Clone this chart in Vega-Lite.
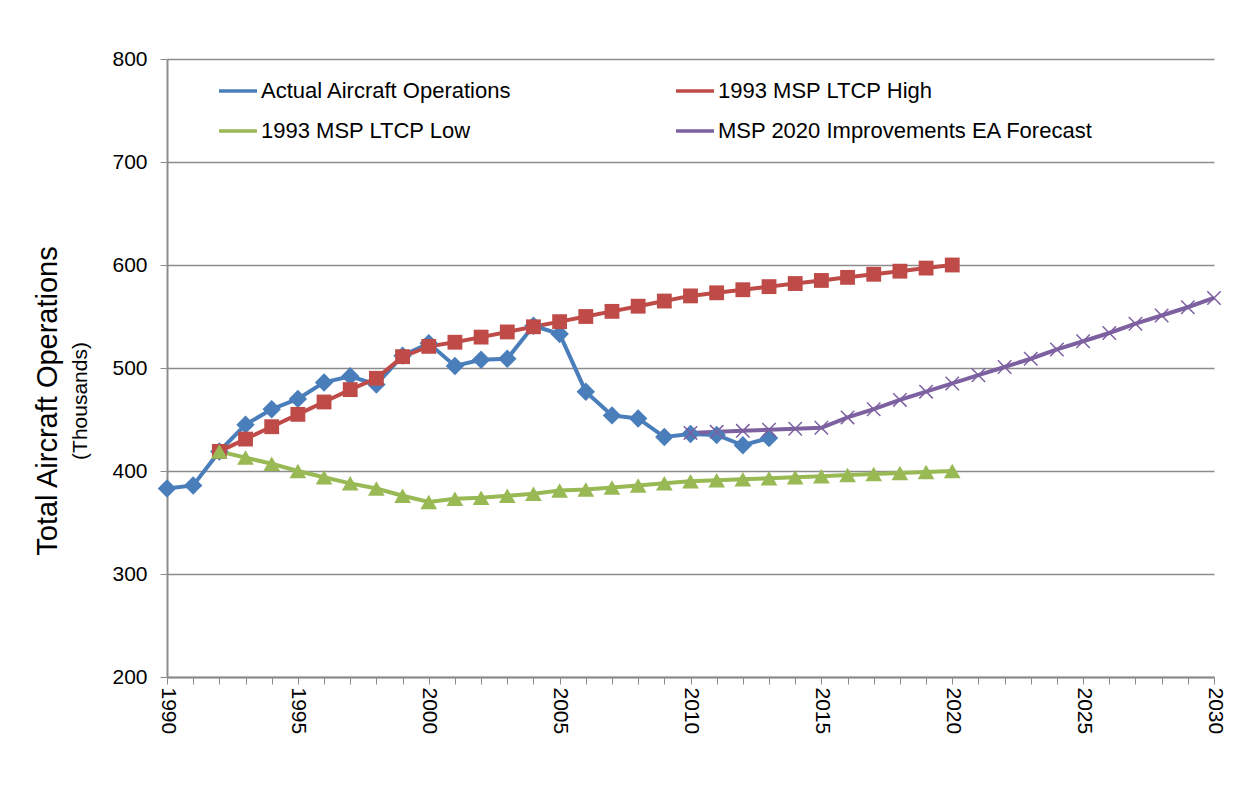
{
  "$schema": "https://vega.github.io/schema/vega-lite/v6.json",
  "width": 1047,
  "height": 618,
  "autosize": "none",
  "padding": {"left": 167, "top": 59, "right": 38, "bottom": 121},
  "background": "white",
  "title": {
    "text": "Total Aircraft Operations", "subtitle": "(Thousands)", "orient": "left", "anchor": "middle",
    "font": "Liberation Sans", "subtitleFont": "Liberation Sans", "fontSize": 29, "subtitleFontSize": 21,
    "fontWeight": "normal", "color": "#000", "subtitleColor": "#000", "offset": 21, "subtitlePadding": 7, "dx": -33
  },
  "config": {
    "font": "Liberation Sans",
    "view": {"stroke": null},
    "axis": {"labelFont": "Liberation Sans", "titleFont": "Liberation Sans", "labelColor": "#000", "titleColor": "#000", "titleFontWeight": "normal"}
  },
  "data": {"name": "ops"},
  "datasets": {
    "ops": [
      {"series": "Actual Aircraft Operations", "year": 1990, "value": 383},
      {"series": "Actual Aircraft Operations", "year": 1991, "value": 386},
      {"series": "Actual Aircraft Operations", "year": 1992, "value": 419},
      {"series": "Actual Aircraft Operations", "year": 1993, "value": 445},
      {"series": "Actual Aircraft Operations", "year": 1994, "value": 460},
      {"series": "Actual Aircraft Operations", "year": 1995, "value": 470},
      {"series": "Actual Aircraft Operations", "year": 1996, "value": 486},
      {"series": "Actual Aircraft Operations", "year": 1997, "value": 492},
      {"series": "Actual Aircraft Operations", "year": 1998, "value": 484},
      {"series": "Actual Aircraft Operations", "year": 1999, "value": 512},
      {"series": "Actual Aircraft Operations", "year": 2000, "value": 524},
      {"series": "Actual Aircraft Operations", "year": 2001, "value": 502},
      {"series": "Actual Aircraft Operations", "year": 2002, "value": 508},
      {"series": "Actual Aircraft Operations", "year": 2003, "value": 509},
      {"series": "Actual Aircraft Operations", "year": 2004, "value": 541},
      {"series": "Actual Aircraft Operations", "year": 2005, "value": 533},
      {"series": "Actual Aircraft Operations", "year": 2006, "value": 477},
      {"series": "Actual Aircraft Operations", "year": 2007, "value": 454},
      {"series": "Actual Aircraft Operations", "year": 2008, "value": 451},
      {"series": "Actual Aircraft Operations", "year": 2009, "value": 433},
      {"series": "Actual Aircraft Operations", "year": 2010, "value": 436},
      {"series": "Actual Aircraft Operations", "year": 2011, "value": 435},
      {"series": "Actual Aircraft Operations", "year": 2012, "value": 425},
      {"series": "Actual Aircraft Operations", "year": 2013, "value": 432},
      {"series": "1993 MSP LTCP High", "year": 1992, "value": 419},
      {"series": "1993 MSP LTCP High", "year": 1993, "value": 431},
      {"series": "1993 MSP LTCP High", "year": 1994, "value": 443},
      {"series": "1993 MSP LTCP High", "year": 1995, "value": 455},
      {"series": "1993 MSP LTCP High", "year": 1996, "value": 467},
      {"series": "1993 MSP LTCP High", "year": 1997, "value": 479},
      {"series": "1993 MSP LTCP High", "year": 1998, "value": 490},
      {"series": "1993 MSP LTCP High", "year": 1999, "value": 511},
      {"series": "1993 MSP LTCP High", "year": 2000, "value": 521},
      {"series": "1993 MSP LTCP High", "year": 2001, "value": 525},
      {"series": "1993 MSP LTCP High", "year": 2002, "value": 530},
      {"series": "1993 MSP LTCP High", "year": 2003, "value": 535},
      {"series": "1993 MSP LTCP High", "year": 2004, "value": 540},
      {"series": "1993 MSP LTCP High", "year": 2005, "value": 545},
      {"series": "1993 MSP LTCP High", "year": 2006, "value": 550},
      {"series": "1993 MSP LTCP High", "year": 2007, "value": 555},
      {"series": "1993 MSP LTCP High", "year": 2008, "value": 560},
      {"series": "1993 MSP LTCP High", "year": 2009, "value": 565},
      {"series": "1993 MSP LTCP High", "year": 2010, "value": 570},
      {"series": "1993 MSP LTCP High", "year": 2011, "value": 573},
      {"series": "1993 MSP LTCP High", "year": 2012, "value": 576},
      {"series": "1993 MSP LTCP High", "year": 2013, "value": 579},
      {"series": "1993 MSP LTCP High", "year": 2014, "value": 582},
      {"series": "1993 MSP LTCP High", "year": 2015, "value": 585},
      {"series": "1993 MSP LTCP High", "year": 2016, "value": 588},
      {"series": "1993 MSP LTCP High", "year": 2017, "value": 591},
      {"series": "1993 MSP LTCP High", "year": 2018, "value": 594},
      {"series": "1993 MSP LTCP High", "year": 2019, "value": 597},
      {"series": "1993 MSP LTCP High", "year": 2020, "value": 600},
      {"series": "1993 MSP LTCP Low", "year": 1992, "value": 419},
      {"series": "1993 MSP LTCP Low", "year": 1993, "value": 413},
      {"series": "1993 MSP LTCP Low", "year": 1994, "value": 407},
      {"series": "1993 MSP LTCP Low", "year": 1995, "value": 400},
      {"series": "1993 MSP LTCP Low", "year": 1996, "value": 394},
      {"series": "1993 MSP LTCP Low", "year": 1997, "value": 388},
      {"series": "1993 MSP LTCP Low", "year": 1998, "value": 383},
      {"series": "1993 MSP LTCP Low", "year": 1999, "value": 376},
      {"series": "1993 MSP LTCP Low", "year": 2000, "value": 370},
      {"series": "1993 MSP LTCP Low", "year": 2001, "value": 373},
      {"series": "1993 MSP LTCP Low", "year": 2002, "value": 374},
      {"series": "1993 MSP LTCP Low", "year": 2003, "value": 376},
      {"series": "1993 MSP LTCP Low", "year": 2004, "value": 378},
      {"series": "1993 MSP LTCP Low", "year": 2005, "value": 381},
      {"series": "1993 MSP LTCP Low", "year": 2006, "value": 382},
      {"series": "1993 MSP LTCP Low", "year": 2007, "value": 384},
      {"series": "1993 MSP LTCP Low", "year": 2008, "value": 386},
      {"series": "1993 MSP LTCP Low", "year": 2009, "value": 388},
      {"series": "1993 MSP LTCP Low", "year": 2010, "value": 390},
      {"series": "1993 MSP LTCP Low", "year": 2011, "value": 391},
      {"series": "1993 MSP LTCP Low", "year": 2012, "value": 392},
      {"series": "1993 MSP LTCP Low", "year": 2013, "value": 393},
      {"series": "1993 MSP LTCP Low", "year": 2014, "value": 394},
      {"series": "1993 MSP LTCP Low", "year": 2015, "value": 395},
      {"series": "1993 MSP LTCP Low", "year": 2016, "value": 396},
      {"series": "1993 MSP LTCP Low", "year": 2017, "value": 397},
      {"series": "1993 MSP LTCP Low", "year": 2018, "value": 398},
      {"series": "1993 MSP LTCP Low", "year": 2019, "value": 399},
      {"series": "1993 MSP LTCP Low", "year": 2020, "value": 400},
      {"series": "MSP 2020 Improvements EA Forecast", "year": 2010, "value": 437},
      {"series": "MSP 2020 Improvements EA Forecast", "year": 2011, "value": 438},
      {"series": "MSP 2020 Improvements EA Forecast", "year": 2012, "value": 439},
      {"series": "MSP 2020 Improvements EA Forecast", "year": 2013, "value": 440},
      {"series": "MSP 2020 Improvements EA Forecast", "year": 2014, "value": 441},
      {"series": "MSP 2020 Improvements EA Forecast", "year": 2015, "value": 442},
      {"series": "MSP 2020 Improvements EA Forecast", "year": 2016, "value": 452},
      {"series": "MSP 2020 Improvements EA Forecast", "year": 2017, "value": 460},
      {"series": "MSP 2020 Improvements EA Forecast", "year": 2018, "value": 469},
      {"series": "MSP 2020 Improvements EA Forecast", "year": 2019, "value": 477},
      {"series": "MSP 2020 Improvements EA Forecast", "year": 2020, "value": 485},
      {"series": "MSP 2020 Improvements EA Forecast", "year": 2021, "value": 493},
      {"series": "MSP 2020 Improvements EA Forecast", "year": 2022, "value": 501},
      {"series": "MSP 2020 Improvements EA Forecast", "year": 2023, "value": 509},
      {"series": "MSP 2020 Improvements EA Forecast", "year": 2024, "value": 518},
      {"series": "MSP 2020 Improvements EA Forecast", "year": 2025, "value": 526},
      {"series": "MSP 2020 Improvements EA Forecast", "year": 2026, "value": 534},
      {"series": "MSP 2020 Improvements EA Forecast", "year": 2027, "value": 543},
      {"series": "MSP 2020 Improvements EA Forecast", "year": 2028, "value": 551},
      {"series": "MSP 2020 Improvements EA Forecast", "year": 2029, "value": 559},
      {"series": "MSP 2020 Improvements EA Forecast", "year": 2030, "value": 568}
    ]
  },
  "encoding": {
    "x": {
      "field": "year", "type": "quantitative",
      "scale": {"domain": [1990, 2030], "nice": false, "zero": false},
      "axis": {
        "title": null, "grid": false,
        "values": [1990,1991,1992,1993,1994,1995,1996,1997,1998,1999,2000,2001,2002,2003,2004,2005,2006,2007,2008,2009,2010,2011,2012,2013,2014,2015,2016,2017,2018,2019,2020,2021,2022,2023,2024,2025,2026,2027,2028,2029,2030],
        "labelExpr": "datum.value % 5 === 0 ? '' + datum.value : ''",
        "labelAngle": 90, "labelFontSize": 21, "labelPadding": 3, "labelOverlap": false, "labelFlush": false,
        "tickSize": 7, "tickColor": "#8c8c8c", "tickWidth": 1,
        "domainColor": "#8c8c8c", "domainWidth": 2
      }
    },
    "y": {
      "field": "value", "type": "quantitative",
      "scale": {"domain": [200, 800], "nice": false, "zero": false},
      "axis": {
        "orient": "left", "title": null,
        "values": [200, 300, 400, 500, 600, 700, 800], "format": "d",
        "labelFontSize": 21, "labelPadding": 13, "tickSize": 7, "tickColor": "#8c8c8c",
        "grid": true, "gridColor": "#8c8c8c", "gridWidth": 1.3,
        "domainColor": "#8c8c8c", "domainWidth": 2
      }
    }
  },
  "layer": [
    {
      "mark": {"type": "line", "strokeWidth": 4},
      "encoding": {
        "color": {
          "field": "series", "type": "nominal",
          "scale": {
            "domain": ["Actual Aircraft Operations", "1993 MSP LTCP High", "1993 MSP LTCP Low", "MSP 2020 Improvements EA Forecast"],
            "range": ["#4A7EBB", "#BE4B48", "#98B954", "#7D60A0"]
          },
          "legend": {
            "title": null, "orient": "top-left", "offset": 11, "direction": "horizontal", "columns": 2,
            "columnPadding": 123, "rowPadding": 8, "padding": 0, "symbolOffset": 39,
            "labelFont": "Liberation Sans", "labelFontSize": 22, "labelColor": "#000", "labelOffset": 2, "labelLimit": 600,
            "symbolSize": 1444, "symbolStrokeWidth": 3.5, "symbolOpacity": 1
          }
        }
      }
    },
    {
      "transform": [{"filter": "datum.series === 'Actual Aircraft Operations'"}],
      "mark": {"type": "point", "shape": "diamond", "filled": true, "size": 340, "opacity": 1, "color": "#4A7EBB"},
      "encoding": {}
    },
    {
      "transform": [{"filter": "datum.series === '1993 MSP LTCP High'"}],
      "mark": {"type": "point", "shape": "square", "filled": true, "size": 220, "opacity": 1, "color": "#BE4B48"},
      "encoding": {}
    },
    {
      "transform": [{"filter": "datum.series === '1993 MSP LTCP Low'"}],
      "mark": {"type": "point", "shape": "triangle-up", "filled": true, "size": 280, "opacity": 1, "color": "#98B954"},
      "encoding": {}
    },
    {
      "transform": [{"filter": "datum.series === 'MSP 2020 Improvements EA Forecast'"}],
      "mark": {"type": "point", "shape": "M-1,-1L1,1M-1,1L1,-1", "filled": false, "size": 180, "opacity": 1, "strokeWidth": 1.5, "color": "#7D60A0"},
      "encoding": {}
    }
  ]
}
